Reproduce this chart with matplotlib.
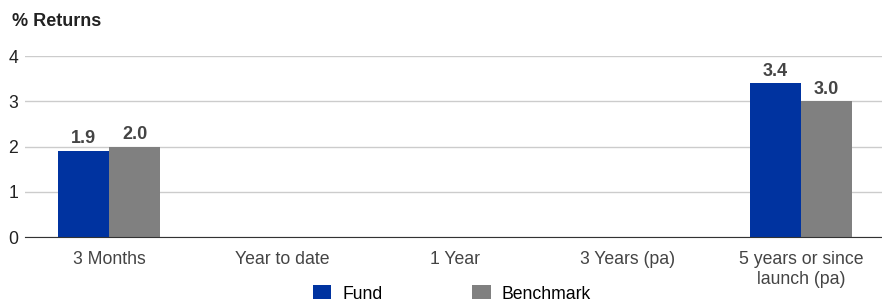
import numpy as np
import matplotlib.pyplot as plt
from matplotlib.patches import Patch

plt.rcParams['font.family'] = ['Liberation Sans', 'DejaVu Sans']

# Data
categories = ["3 Months", "Year to date", "1 Year", "3 Years (pa)", "5 years or since\nlaunch (pa)"]
fund = [1.9, np.nan, np.nan, np.nan, 3.4]
benchmark = [2.0, np.nan, np.nan, np.nan, 3.0]
series_names = ["Fund", "Benchmark"]
colors = ["#0033a0", "#808080"]

fig = plt.figure(figsize=(8.82, 3.02), dpi=100)
ax = fig.add_axes([25 / 882, 1 - 237 / 302, 857 / 882, 181 / 302])

x = np.arange(len(categories))
w = 0.295
for i, (vals, col) in enumerate(zip([fund, benchmark], colors)):
    offset = (i - 0.5) * w
    ax.bar(x + offset, vals, width=w, color=col, zorder=3)
    for xi, v in zip(x + offset, vals):
        if not np.isnan(v):
            ax.text(xi, v + 0.08, f"{v:.1f}", ha="center", va="bottom",
                    fontsize=13, fontweight="bold", color="#444444")

ax.set_xlim(-0.486, 4.468)
ax.set_ylim(0, 4)
ax.set_yticks([0, 1, 2, 3, 4])
ax.set_xticks(x)
ax.set_xticklabels(categories, fontsize=12.7, color="#444444", linespacing=1.25)
ax.tick_params(axis="both", length=0, labelsize=12.7)
ax.tick_params(axis="x", pad=10)
ax.tick_params(axis="y", pad=5, labelcolor="#222222")
ax.grid(axis="y", color="#cccccc", linewidth=1, zorder=0)
for s in ["top", "right", "left"]:
    ax.spines[s].set_visible(False)
ax.spines["bottom"].set_color("#333333")
ax.spines["bottom"].set_zorder(4)

fig.text(12 / 882, 1 - 22 / 302, "% Returns", fontsize=13, fontweight="bold",
         va="center", ha="left", color="#222222")

handles = [Patch(facecolor=c, edgecolor="none") for c in colors]
fig.legend(handles, series_names, loc="center", bbox_to_anchor=(452 / 882, 1 - 294 / 302),
           ncol=2, frameon=False, fontsize=12.7, handlelength=1.05, handleheight=0.85,
           handletextpad=0.62, columnspacing=5.1, borderpad=0)

fig.savefig("out.png", dpi=100)
